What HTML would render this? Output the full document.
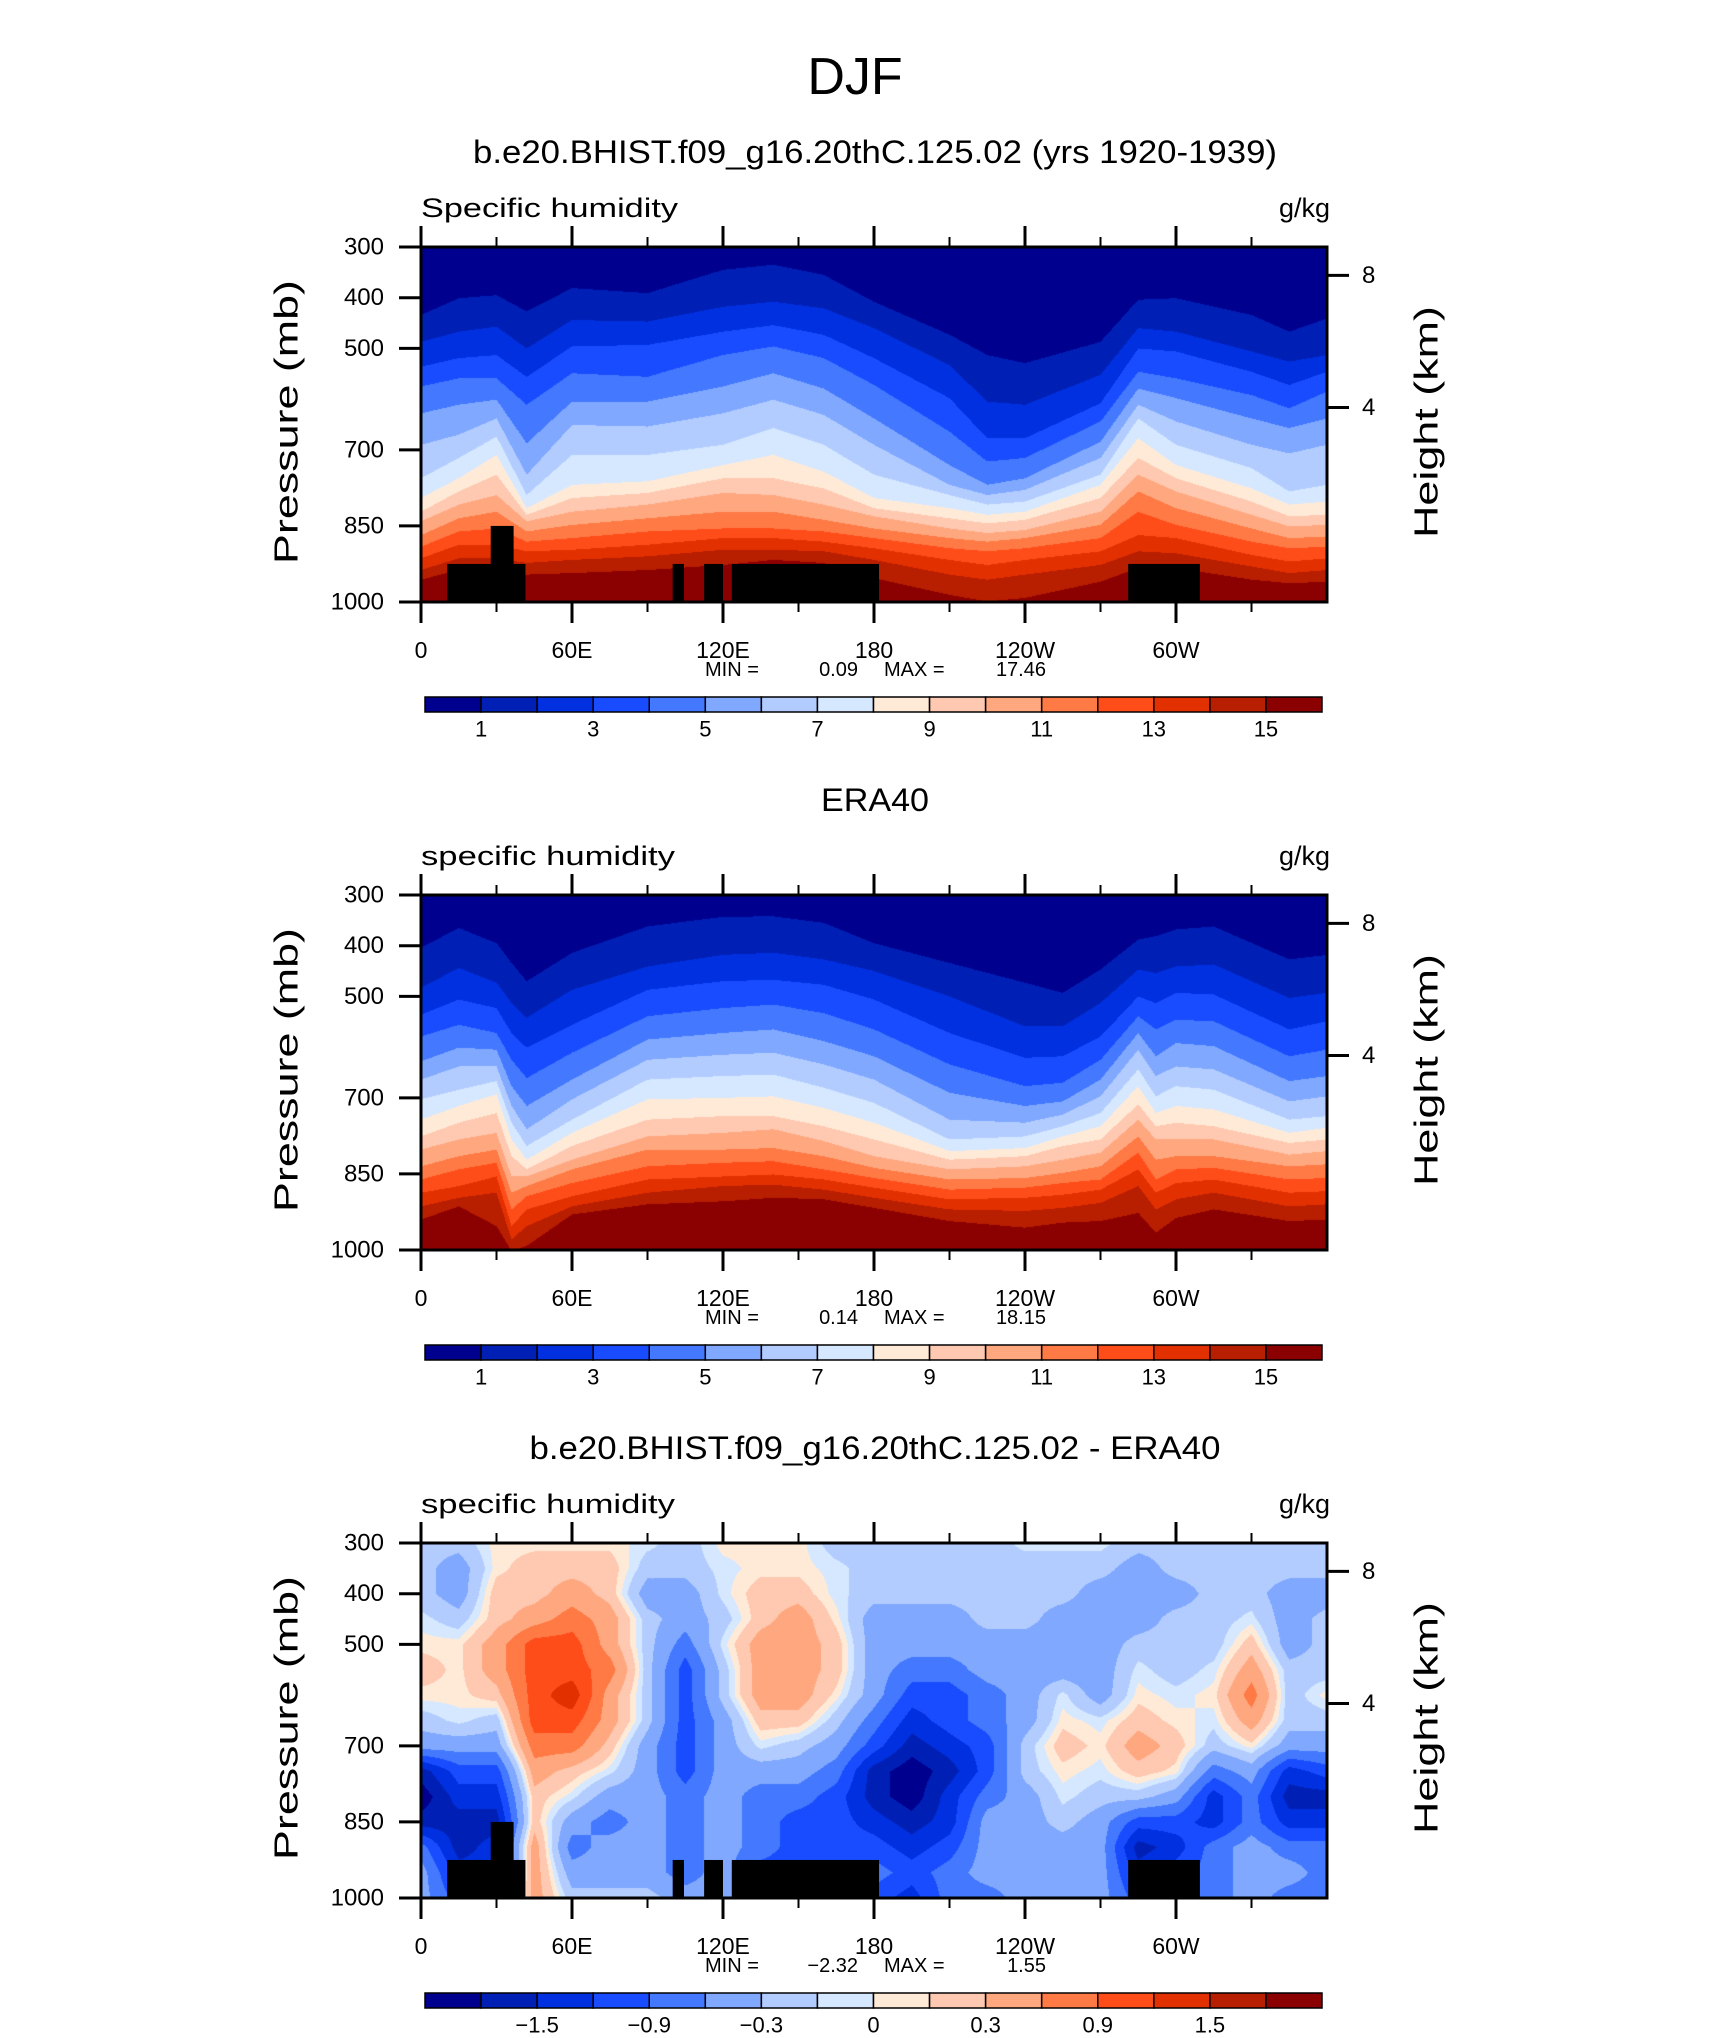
<!DOCTYPE html>
<html><head><meta charset="utf-8">
<style>
html,body{margin:0;padding:0;background:#fff;}
body{width:1710px;height:2038px;position:relative;overflow:hidden;font-family:"Liberation Sans",sans-serif;}
canvas{position:absolute;}
#overlay{position:absolute;left:0;top:0;}
</style></head>
<body>
<canvas id="c0"></canvas>
<canvas id="c1"></canvas>
<canvas id="c2"></canvas>
<svg id="overlay" width="1710" height="2038" xmlns="http://www.w3.org/2000/svg">
<text x="855" y="94" font-size="52" text-anchor="middle" font-family="Liberation Sans, sans-serif">DJF</text>
</svg>
<script>
// ---------- data ----------
const lonTicks=[0,60,120,180,240,300];
const lonTickLabels=["0","60E","120E","180","120W","60W"];
const lonMinor=[30,90,150,210,270,330];
const pTicks=[300,400,500,700,850,1000];
const hTicks=[4,8];
const qLevels=[1,2,3,4,5,6,7,8,9,10,11,12,13,14,15];
const qLabelIdx=[0,2,4,6,8,10,12,14];
const qLabels=["1","3","5","7","9","11","13","15"];
const dLevels=[-1.8,-1.5,-1.2,-0.9,-0.6,-0.3,-0.1,0,0.1,0.3,0.6,0.9,1.2,1.5,1.8];
const dLabelIdx=[1,3,5,7,9,11,13];
const dLabels=["\u22121.5","\u22120.9","\u22120.3","0","0.3","0.9","1.5"];
const colors=["#00008f","#0020b5","#0030e0","#1a4cff","#4378ff","#80a8ff","#b3ccff","#d5e8ff","#ffead8","#ffc8b0","#ffa880","#ff7a45","#ff4d1a","#e33000","#b81e00","#8b0000"];

// model: pressure (mb) of each q contour 1..15 at each longitude
const ctlLons=[0,15,30,42,60,90,120,140,160,180,210,225,240,270,285,300,330,345,360];
const ctlLevP=[
[434,487,536,575,628,690,756,795,822,841,868,891,914,937,956],
[401,467,519,559,611,670,716,756,782,808,835,861,887,914,937],
[395,457,513,559,601,638,674,710,749,789,822,855,887,914,946],
[427,500,556,611,687,749,789,815,828,841,861,881,900,923,946],
[381,444,496,549,605,651,710,769,795,822,848,874,897,917,943],
[391,447,493,556,605,654,710,762,785,808,835,861,887,910,937],
[345,418,467,513,575,628,690,730,756,785,822,855,874,897,927],
[335,408,454,496,549,601,657,710,756,789,822,855,874,897,917],
[355,421,473,519,579,631,690,743,776,808,838,861,881,900,923],
[408,460,519,572,638,690,749,795,815,831,855,874,894,917,953],
[473,533,598,664,730,769,789,815,835,855,874,894,917,946,986],
[513,605,677,723,769,789,808,828,845,864,881,900,927,956,999],
[529,611,677,716,756,779,802,822,838,858,874,894,917,946,992],
[487,552,608,644,684,716,749,769,795,822,848,874,900,927,960],
[404,460,500,546,579,611,638,677,716,749,782,822,868,900,933],
[401,467,506,559,598,644,690,730,756,782,815,848,874,904,933],
[434,506,546,592,638,690,736,776,802,828,855,881,907,930,956],
[467,526,572,618,657,707,782,808,831,851,874,894,920,943,963],
[441,513,546,585,638,690,769,802,828,848,871,891,914,937,960]];

// ERA40
const obsLons=[0,15,30,36,42,60,90,120,140,160,180,210,240,255,270,285,292,300,315,345,360];
const obsLevP=[
[404,483,536,579,628,664,703,743,776,802,835,861,887,914,940],
[365,444,506,556,601,638,684,716,749,782,815,841,874,897,914],
[395,473,523,572,605,638,667,693,730,769,802,828,855,887,953],
[434,513,572,625,677,716,749,782,815,855,887,920,953,979,1002],
[470,542,601,661,716,762,795,822,841,855,874,894,920,953,992],
[414,487,556,611,664,703,743,769,795,822,841,868,894,914,930],
[362,441,487,539,585,625,664,703,743,776,802,835,861,887,910],
[343,418,470,523,572,615,657,700,736,769,802,828,855,874,904],
[342,414,467,516,565,611,654,697,736,762,799,825,851,871,897],
[355,427,477,533,588,634,680,720,756,785,815,841,861,881,900],
[395,450,506,565,618,664,710,749,782,815,838,858,877,897,917],
[434,500,572,634,690,743,782,805,822,841,861,881,900,920,943],
[473,559,621,677,716,749,776,799,815,835,858,877,897,923,956],
[493,559,618,670,707,733,756,776,795,822,848,868,891,917,946],
[447,513,579,625,664,697,730,756,782,808,835,861,881,907,943],
[388,447,500,539,572,605,644,677,713,743,776,808,841,874,927],
[381,454,513,565,618,657,697,730,756,782,822,861,887,920,966],
[368,441,493,546,592,638,677,716,749,782,815,841,868,900,937],
[362,437,496,549,598,644,684,723,756,782,815,838,861,887,920],
[427,503,565,618,667,707,743,769,789,812,835,861,887,914,943],
[418,493,549,605,657,697,736,759,782,805,831,858,884,910,940]];

// difference (model - ERA40), g/kg, on lon x pressure grid
const dLons=[0,15,30,45,60,75,90,105,120,135,150,165,180,195,210,225,240,255,270,285,300,315,330,345,360];
const dPres=[300,350,400,450,500,550,600,650,700,750,800,850,900,950,1000];
const dVals=[
[-0.2,-0.2,-0.2,-0.05,0.05,0.2,0.05,-0.2,-0.45,-1.65,-2.0,-1.65,-0.75,-0.45,-0.45],
[-0.2,-0.45,-0.45,-0.2,0.05,0.05,0.05,-0.05,-0.45,-1.05,-1.35,-1.65,-1.65,-1.35,-1.05],
[0.05,0.05,0.2,0.2,0.45,0.45,0.2,-0.2,-0.45,-1.05,-1.35,-1.65,-1.35,-1.35,-1.05],
[0.05,0.2,0.2,0.45,1.05,1.05,1.05,1.05,0.75,0.45,0.2,0.2,0.45,0.45,0.45],
[0.05,0.2,0.45,0.75,1.05,1.05,1.4,1.05,0.75,0.2,-0.05,-0.45,-0.75,-0.45,-0.2],
[0.05,0.2,0.2,0.45,0.45,0.75,0.45,0.45,0.2,-0.05,-0.45,-0.75,-0.45,-0.45,-0.2],
[-0.05,-0.2,-0.45,-0.2,-0.2,-0.2,-0.2,-0.2,-0.45,-0.45,-0.45,-0.45,-0.45,-0.45,-0.2],
[-0.2,-0.2,-0.45,-0.45,-0.75,-1.05,-1.05,-1.05,-1.05,-1.05,-0.75,-0.75,-0.75,-0.75,-0.45],
[0.05,-0.05,-0.05,-0.2,-0.05,-0.2,-0.2,-0.45,-0.45,-0.45,-0.45,-0.45,-0.45,-0.45,-0.45],
[0.05,0.05,0.2,0.2,0.45,0.45,0.45,0.2,-0.05,-0.45,-0.75,-0.75,-0.75,-1.05,-1.05],
[0.05,0.05,0.2,0.45,0.45,0.45,0.45,0.2,-0.2,-0.45,-0.75,-1.05,-1.05,-1.05,-1.05],
[-0.2,-0.05,-0.05,0.05,0.2,0.2,0.05,-0.2,-0.45,-0.75,-1.05,-1.05,-1.05,-1.05,-1.05],
[-0.2,-0.2,-0.2,-0.45,-0.45,-0.45,-0.45,-0.75,-1.05,-1.65,-1.65,-1.35,-1.05,-0.75,-1.05],
[-0.2,-0.2,-0.2,-0.45,-0.45,-0.75,-1.05,-1.35,-1.65,-2.0,-2.0,-1.65,-1.35,-1.05,-1.35],
[-0.2,-0.2,-0.2,-0.45,-0.45,-0.75,-1.05,-1.05,-1.35,-1.65,-1.35,-1.35,-1.05,-0.75,-0.75],
[-0.2,-0.2,-0.2,-0.2,-0.45,-0.45,-0.75,-0.75,-1.05,-1.05,-0.75,-0.45,-0.45,-0.45,-0.75],
[-0.05,-0.2,-0.2,-0.2,-0.45,-0.45,-0.45,-0.45,-0.2,-0.2,-0.45,-0.45,-0.45,-0.45,-0.45],
[-0.05,-0.2,-0.2,-0.45,-0.45,-0.45,-0.05,0.05,0.2,0.05,-0.05,-0.2,-0.45,-0.45,-0.45],
[-0.05,-0.2,-0.45,-0.45,-0.45,-0.45,-0.45,-0.05,0.05,-0.05,-0.2,-0.45,-0.45,-0.45,-0.45],
[-0.2,-0.45,-0.45,-0.45,-0.2,-0.05,0.05,0.2,0.45,0.2,-0.2,-1.05,-1.65,-1.35,-1.05],
[-0.2,-0.2,-0.45,-0.2,-0.2,-0.2,-0.05,0.05,0.2,0.05,-0.45,-1.05,-1.35,-1.05,-0.75],
[-0.2,-0.2,-0.2,-0.2,-0.2,-0.05,0.05,-0.05,-0.2,-0.75,-1.35,-1.35,-0.75,-0.75,-0.75],
[-0.2,-0.2,-0.2,-0.05,0.2,0.45,0.75,0.45,0.05,-0.45,-0.75,-0.75,-0.45,-0.45,-0.45],
[-0.2,-0.2,-0.45,-0.45,-0.45,-0.2,-0.2,-0.2,-0.45,-1.35,-1.65,-1.35,-0.75,-0.45,-0.75],
[-0.2,-0.2,-0.45,-0.2,-0.2,-0.2,0.05,-0.2,-0.45,-1.05,-1.65,-1.35,-0.75,-0.75,-0.75]];

// topography masks: west lon, east lon, top pressure
const topoWest=[10.4,27.7,100,112.5,123.5,281];
const topoEast=[41.5,36.8,104.5,120,182,309.5];
const topoTop=[925,850,925,925,925,925];

const titles=["b.e20.BHIST.f09_g16.20thC.125.02 (yrs 1920-1939)","ERA40","b.e20.BHIST.f09_g16.20thC.125.02 - ERA40"];
const titleWidths=[804,108,691];
const varNames=["Specific humidity","specific humidity","specific humidity"];
const minVals=["0.09","0.14","\u22122.32"];
const maxVals=["17.46","18.15","1.55"];

// ---------- layout ----------
const PX=421, PW=906, PH=355;
const TOPS=[247,895,1543];
function xOf(lon){return PX+lon/360*PW;}
function yOf(p,top){return top+(p-300)/700*PH;}
function hToP(km){return 1013.25*Math.pow(1-2.25577e-5*km*1000,5.25588);}
function hexRGB(h){return [parseInt(h.substr(1,2),16),parseInt(h.substr(3,2),16),parseInt(h.substr(5,2),16)];}
const rgb=colors.map(hexRGB);

function setupCanvas(id,top){
  const c=document.getElementById(id);
  c.width=PW;c.height=PH;c.style.left=PX+'px';c.style.top=top+'px';
  return c.getContext('2d');
}
function putPixel(d,i,band){const c=rgb[band];d[i]=c[0];d[i+1]=c[1];d[i+2]=c[2];d[i+3]=255;}

function drawContourLevels(ctx,lons,levP){
  const img=ctx.createImageData(PW,PH);const d=img.data;
  const P=new Array(15);
  for(let x=0;x<PW;x++){
    const lon=(x+0.5)/PW*360;
    let i=0;while(i<lons.length-2&&lons[i+1]<lon)i++;
    const t=(lon-lons[i])/(lons[i+1]-lons[i]);
    for(let k=0;k<15;k++)P[k]=levP[i][k]*(1-t)+levP[i+1][k]*t;
    for(let y=0;y<PH;y++){
      const p=300+(y+0.5)/PH*700;
      let b=0;while(b<15&&P[b]<=p)b++;
      putPixel(d,(y*PW+x)*4,b);
    }
  }
  ctx.putImageData(img,0,0);
}
function drawGrid(ctx){
  const img=ctx.createImageData(PW,PH);const d=img.data;
  for(let x=0;x<PW;x++){
    const lon=(x+0.5)/PW*360;
    let i=0;while(i<dLons.length-2&&dLons[i+1]<lon)i++;
    const t=(lon-dLons[i])/(dLons[i+1]-dLons[i]);
    for(let y=0;y<PH;y++){
      const p=300+(y+0.5)/PH*700;
      let j=0;while(j<dPres.length-2&&dPres[j+1]<p)j++;
      const s=(p-dPres[j])/(dPres[j+1]-dPres[j]);
      const v=(dVals[i][j]*(1-s)+dVals[i][j+1]*s)*(1-t)+(dVals[i+1][j]*(1-s)+dVals[i+1][j+1]*s)*t;
      let b=0;while(b<15&&dLevels[b]<=v)b++;
      putPixel(d,(y*PW+x)*4,b);
    }
  }
  ctx.putImageData(img,0,0);
}
drawContourLevels(setupCanvas('c0',TOPS[0]),ctlLons,ctlLevP);
drawContourLevels(setupCanvas('c1',TOPS[1]),obsLons,obsLevP);
drawGrid(setupCanvas('c2',TOPS[2]));

// ---------- overlay ----------
const svg=document.getElementById('overlay');
const NS='http://www.w3.org/2000/svg';
function mk(tag,attrs,parent){const e=document.createElementNS(NS,tag);for(const k in attrs)e.setAttribute(k,attrs[k]);(parent||svg).appendChild(e);return e;}
function txt(x,y,s,size,anchor,parent,extra){
  const e=mk('text',Object.assign({x:x,y:y,'font-size':size,'text-anchor':anchor||'start','font-family':'Liberation Sans, sans-serif','dominant-baseline':'central',fill:'#000'},extra||{}),parent);
  e.textContent=s;return e;
}

for(let n=0;n<3;n++){
  const top=TOPS[n], dy=n*648, bot=top+PH;
  const g=mk('g',{});
  
  
  const tt=txt(875,152+dy,titles[n],32,'middle',g,{textLength:titleWidths[n],lengthAdjust:'spacingAndGlyphs'});
  
  
  const vn=txt(421,208+dy,varNames[n],27,'start',g,{textLength:n==0?257:254,lengthAdjust:'spacingAndGlyphs'});
  
  
  const un=txt(1330,208+dy,'g/kg',27,'end',g);
  
  
  if(n!==1){
    for(let k=0;k<topoWest.length;k++){
      const r=mk('rect',{x:xOf(topoWest[k]),y:yOf(topoTop[k],top),width:xOf(topoEast[k])-xOf(topoWest[k]),height:yOf(1000,top)-yOf(topoTop[k],top),fill:'#000'},g);
      
      
    }
  }
  const fr=mk('rect',{x:PX,y:top,width:PW,height:PH,fill:'none',stroke:'#000','stroke-width':3},g);
  
  
  for(let k=0;k<lonTicks.length;k++){
    const x=xOf(lonTicks[k]);
    mk('line',{x1:x,x2:x,y1:top,y2:top-21,stroke:'#000','stroke-width':3},g);
    mk('line',{x1:x,x2:x,y1:bot,y2:bot+21,stroke:'#000','stroke-width':3},g);
    const l=txt(x,650+dy,lonTickLabels[k],23,'middle',g);
    
    
  }
  for(let k=0;k<lonMinor.length;k++){
    const x=xOf(lonMinor[k]);
    mk('line',{x1:x,x2:x,y1:top,y2:top-10,stroke:'#000','stroke-width':2},g);
    mk('line',{x1:x,x2:x,y1:bot,y2:bot+10,stroke:'#000','stroke-width':2},g);
  }
  for(let k=0;k<pTicks.length;k++){
    const y=yOf(pTicks[k],top);
    mk('line',{x1:PX,x2:PX-22,y1:y,y2:y,stroke:'#000','stroke-width':3},g);
    const l=txt(384,y,String(pTicks[k]),24,'end',g);
    
    
  }
  for(let k=0;k<hTicks.length;k++){
    const y=yOf(hToP(hTicks[k]),top);
    mk('line',{x1:PX+PW,x2:PX+PW+22,y1:y,y2:y,stroke:'#000','stroke-width':3},g);
    const l=txt(1362,y,String(hTicks[k]),24,'start',g);
    
    
  }
  const yt=txt(0,0,'Pressure (mb)',33,'middle',g,{transform:'translate(286,'+(422+dy)+') rotate(-90)',textLength:284,lengthAdjust:'spacingAndGlyphs'});
  
  
  const ht=txt(0,0,'Height (km)',33,'middle',g,{transform:'translate(1426,'+(422+dy)+') rotate(-90)',textLength:232,lengthAdjust:'spacingAndGlyphs'});
  
  
  const m1=txt(705,670+dy,'MIN =',20,'start',g);
  
  
  const m2=txt(858,670+dy,minVals[n],20,'end',g);
  
  
  const m3=txt(884,670+dy,'MAX =',20,'start',g);
  
  
  const m4=txt(1046,670+dy,maxVals[n],20,'end',g);
  
  
  const cb=mk('g',{},g);
  
  
  const cx0=425,cw=897,cy=697+dy,ch=15,bw=cw/16;
  for(let k=0;k<16;k++){
    const r=mk('rect',{x:cx0+k*bw,y:cy,width:bw,height:ch,fill:colors[k],stroke:'#000','stroke-width':1.5},cb);
    
    
  }
  const idx=n<2?qLabelIdx:dLabelIdx, labs=n<2?qLabels:dLabels;
  for(let k=0;k<idx.length;k++){
    const l=txt(cx0+(idx[k]+1)*bw,729+dy,labs[k],22,'middle',cb);
    
    
  }
}
</script>
</body></html>
